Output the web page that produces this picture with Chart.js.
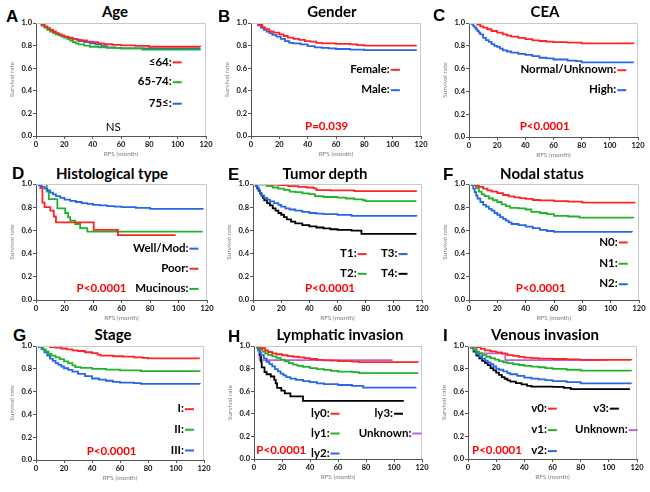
<!DOCTYPE html>
<html>
<head>
<meta charset="utf-8">
<script src="https://cdn.jsdelivr.net/npm/chart.js@4.4.0/dist/chart.umd.min.js"></script>
<style>
  body { margin: 0; width: 650px; height: 492px; background: #fff; position: relative; overflow: hidden; }
  .box { position: absolute; }
  .letter { position: absolute; font: bold 17px "Liberation Sans", Arial, sans-serif; line-height: 17px; color: #000; }
  .title { position: absolute; font: bold 15px Lato, sans-serif; line-height: 15px; color: #000; transform: translateX(-50%); white-space: nowrap; }
</style>
</head>
<body>
<script>
// survival curves: [month, survival rate]
const age64 = [[0,1],[2,1],[4,0.985],[6,0.97],[8,0.955],[10,0.94],[12,0.925],[14,0.91],[16,0.9],[18,0.89],[20,0.88],[23,0.87],[26,0.86],[29,0.85],[32,0.845],[36,0.835],[40,0.83],[44,0.82],[48,0.812],[54,0.806],[60,0.802],[70,0.797],[80,0.79],[116,0.788]];
const age6574 = [[0,1],[2,1],[4,0.98],[6,0.96],[8,0.94],[10,0.925],[12,0.91],[14,0.9],[16,0.89],[18,0.88],[20,0.87],[22,0.86],[24,0.845],[26,0.83],[28,0.82],[30,0.81],[34,0.8],[38,0.79],[44,0.785],[50,0.78],[60,0.775],[75,0.765],[116,0.762]];
const age75 = [[0,1],[2,1],[4,0.98],[6,0.965],[8,0.95],[10,0.935],[12,0.92],[14,0.905],[16,0.895],[18,0.885],[20,0.875],[23,0.865],[26,0.855],[30,0.84],[34,0.83],[38,0.82],[42,0.81],[46,0.795],[50,0.785],[56,0.78],[60,0.775],[80,0.774],[116,0.774]];

const female = [[0,1],[3,1],[5,0.985],[8,0.96],[10,0.945],[13,0.925],[16,0.915],[20,0.9],[23,0.885],[26,0.87],[30,0.86],[34,0.85],[38,0.84],[42,0.835],[46,0.825],[50,0.82],[60,0.815],[70,0.81],[75,0.805],[80,0.8],[117,0.8]];
const male = [[0,1],[3,1],[5,0.98],[7,0.96],[9,0.94],[11,0.925],[13,0.91],[15,0.895],[18,0.88],[21,0.86],[24,0.84],[27,0.825],[30,0.82],[35,0.81],[40,0.795],[45,0.785],[50,0.78],[55,0.775],[60,0.77],[70,0.765],[80,0.76],[117,0.76]];

const ceaNormal = [[0,1],[4,1],[6,0.985],[8,0.97],[10,0.96],[13,0.945],[16,0.93],[20,0.915],[24,0.9],[27,0.89],[30,0.88],[35,0.87],[40,0.858],[45,0.848],[50,0.842],[55,0.837],[60,0.833],[70,0.828],[80,0.822],[117,0.82]];
const ceaHigh = [[0,1],[2,0.99],[3,0.975],[4,0.96],[5,0.945],[6,0.93],[7,0.915],[8,0.9],[10,0.87],[12,0.85],[14,0.835],[16,0.815],[18,0.8],[20,0.79],[22,0.775],[24,0.76],[27,0.75],[30,0.74],[35,0.73],[40,0.72],[45,0.71],[50,0.695],[55,0.69],[60,0.68],[70,0.67],[76,0.665],[80,0.655],[117,0.655]];

const histWell = [[0,1],[2,0.99],[4,0.975],[6,0.96],[8,0.945],[10,0.925],[12,0.91],[14,0.895],[17,0.88],[20,0.865],[24,0.855],[28,0.845],[32,0.835],[36,0.828],[40,0.82],[45,0.815],[50,0.81],[55,0.805],[60,0.8],[70,0.795],[80,0.785],[117,0.78]];
const histPoor = [[0,1],[3,0.965],[4.5,0.84],[6,0.8],[10,0.77],[12.5,0.72],[14,0.67],[40.5,0.605],[57.5,0.56],[98,0.56]];
const histMuc = [[0,1],[7.5,0.935],[9,0.87],[15,0.79],[20.5,0.75],[22.5,0.715],[24,0.685],[27.5,0.655],[31,0.62],[36,0.59],[117,0.59]];

const t1 = [[0,1],[8,1],[12,0.995],[18,0.99],[25,0.982],[32,0.975],[38,0.97],[43,0.962],[45,0.948],[55,0.945],[72,0.938],[116,0.935]];
const t2 = [[0,1],[5,0.995],[10,0.982],[14,0.97],[18,0.96],[22,0.95],[26,0.935],[30,0.93],[35,0.92],[40,0.912],[44,0.895],[50,0.888],[60,0.883],[66,0.875],[72,0.868],[78,0.86],[80,0.852],[116,0.852]];
const t3 = [[0,1],[2,0.99],[3,0.97],[4,0.95],[5,0.925],[6,0.9],[8,0.88],[10,0.865],[12,0.85],[15,0.835],[18,0.82],[20,0.805],[23,0.79],[26,0.78],[30,0.77],[35,0.76],[40,0.75],[45,0.745],[50,0.74],[60,0.733],[70,0.726],[116,0.72]];
const t4 = [[0,1],[2,0.985],[3,0.96],[4,0.94],[5,0.92],[6,0.9],[7,0.88],[8,0.86],[10,0.835],[12,0.815],[14,0.79],[16,0.77],[18,0.75],[20,0.735],[22,0.715],[24,0.695],[27,0.675],[30,0.66],[35,0.645],[40,0.635],[45,0.625],[50,0.618],[55,0.61],[60,0.605],[70,0.598],[77,0.57],[116,0.57]];

const n0 = [[0,1],[3,1],[5,0.985],[7,0.975],[10,0.96],[13,0.945],[16,0.935],[20,0.922],[24,0.905],[28,0.893],[32,0.885],[36,0.878],[40,0.872],[45,0.862],[50,0.858],[60,0.853],[70,0.848],[80,0.84],[117,0.836]];
const n1 = [[0,1],[3,0.99],[5,0.965],[7,0.935],[9,0.91],[11,0.895],[14,0.875],[17,0.86],[20,0.845],[23,0.825],[26,0.81],[29,0.795],[35,0.79],[40,0.78],[44,0.76],[50,0.75],[55,0.74],[60,0.725],[70,0.72],[78,0.71],[116,0.707]];
const n2 = [[0,1],[2,0.99],[3,0.96],[4,0.93],[5,0.9],[6,0.875],[8,0.845],[10,0.82],[12,0.805],[14,0.785],[16,0.77],[18,0.75],[20,0.735],[22,0.715],[24,0.7],[26,0.685],[28,0.67],[30,0.655],[35,0.645],[40,0.632],[45,0.62],[50,0.605],[55,0.595],[60,0.588],[115,0.585]];

const stage1 = [[0,1],[6,1],[10,0.99],[14,0.985],[18,0.978],[22,0.97],[26,0.962],[30,0.956],[35,0.945],[40,0.937],[44,0.925],[46,0.915],[55,0.91],[62,0.906],[70,0.9],[76,0.896],[80,0.892],[117,0.892]];
const stage2 = [[0,1],[3,0.99],[5,0.97],[7,0.95],[9,0.93],[11,0.915],[14,0.9],[17,0.885],[20,0.865],[23,0.85],[26,0.83],[28,0.815],[32,0.808],[40,0.8],[50,0.792],[60,0.787],[75,0.78],[117,0.778]];
const stage3 = [[0,1],[2,0.99],[4,0.97],[6,0.945],[8,0.915],[10,0.89],[12,0.87],[14,0.85],[16,0.835],[18,0.82],[20,0.805],[23,0.79],[26,0.775],[30,0.755],[35,0.735],[40,0.715],[45,0.705],[50,0.695],[55,0.685],[60,0.678],[70,0.675],[75,0.668],[117,0.667]];

const ly0 = [[0,1],[3,0.99],[5,0.98],[8,0.96],[10,0.947],[13,0.935],[16,0.927],[20,0.918],[24,0.91],[28,0.905],[32,0.9],[36,0.892],[40,0.885],[45,0.878],[50,0.873],[55,0.87],[60,0.867],[70,0.862],[75,0.857],[117,0.852]];
const ly1 = [[0,1],[2,0.99],[4,0.97],[6,0.95],[8,0.935],[10,0.922],[13,0.908],[16,0.895],[19,0.88],[22,0.865],[25,0.848],[28,0.835],[31,0.825],[35,0.815],[40,0.805],[45,0.795],[50,0.788],[55,0.78],[60,0.774],[70,0.768],[75,0.76],[117,0.758]];
const ly2 = [[0,1],[2,0.985],[3,0.96],[4,0.94],[5,0.92],[7,0.89],[9,0.86],[11,0.84],[13,0.82],[15,0.795],[17,0.775],[19,0.755],[21,0.74],[23,0.725],[26,0.712],[30,0.7],[35,0.69],[40,0.68],[45,0.67],[50,0.662],[60,0.655],[70,0.647],[78,0.632],[116,0.632]];
const ly3 = [[0,1],[3,0.97],[4,0.92],[5,0.86],[5.5,0.81],[7.5,0.77],[9,0.75],[12,0.73],[14.5,0.7],[15.5,0.67],[16.5,0.63],[19.5,0.605],[22,0.58],[26,0.555],[35,0.515],[107,0.515]];
const lyUnk = [[0,1],[4,0.875],[99,0.875]];

const v0 = [[0,1],[4,1],[6,0.99],[9,0.975],[12,0.962],[16,0.952],[20,0.944],[24,0.932],[28,0.92],[32,0.912],[36,0.904],[40,0.897],[45,0.892],[50,0.889],[60,0.885],[70,0.882],[80,0.878],[116,0.877]];
const v1 = [[0,1],[2,0.99],[4,0.97],[6,0.95],[8,0.935],[10,0.92],[13,0.905],[16,0.893],[19,0.88],[22,0.866],[25,0.856],[28,0.848],[32,0.84],[36,0.832],[40,0.825],[45,0.818],[50,0.812],[55,0.805],[60,0.798],[70,0.79],[80,0.782],[116,0.78]];
const v2 = [[0,1],[2,0.99],[4,0.96],[6,0.93],[8,0.905],[10,0.888],[12,0.87],[14,0.855],[16,0.84],[18,0.82],[20,0.8],[22,0.79],[25,0.776],[28,0.76],[30,0.75],[35,0.735],[40,0.72],[45,0.712],[50,0.705],[55,0.698],[60,0.69],[70,0.68],[80,0.67],[116,0.668]];
const v3 = [[0,1],[2,0.985],[4,0.95],[6,0.915],[8,0.89],[10,0.868],[12,0.85],[14,0.83],[16,0.805],[18,0.785],[20,0.765],[22,0.745],[24,0.725],[26,0.71],[28,0.695],[30,0.685],[34,0.672],[38,0.66],[42,0.648],[45,0.64],[60,0.638],[68,0.63],[73,0.618],[115,0.618]];
const vUnk = [[0,1],[6,0.935],[26.5,0.875],[99,0.875]];

const panelLetters = ['A', 'B', 'C', 'D', 'E', 'F', 'G', 'H', 'I'];
const panelTitles = ['Age', 'Gender', 'CEA', 'Histological type', 'Tumor depth', 'Nodal status', 'Stage', 'Lymphatic invasion', 'Venous invasion'];
const groupLabels = [
  ['≤64:', '65-74:', '75≤:'],
  ['Female:', 'Male:'],
  ['Normal/Unknown:', 'High:'],
  ['Well/Mod:', 'Poor:', 'Mucinous:'],
  ['T1:', 'T2:', 'T3:', 'T4:'],
  ['N0:', 'N1:', 'N2:'],
  ['I:', 'II:', 'III:'],
  ['ly0:', 'ly1:', 'ly2:', 'ly3:', 'Unknown:'],
  ['v0:', 'v1:', 'v2:', 'v3:', 'Unknown:']
];
const pValues = ['NS', 'P=0.039', 'P<0.0001', 'P<0.0001', 'P<0.0001', 'P<0.0001', 'P<0.0001', 'P<0.0001', 'P<0.0001'];
const xTicks = [0, 20, 40, 60, 80, 100, 120];
const yTicks = [0, 0.2, 0.4, 0.6, 0.8, 1.0];

const RED = '#ff2424', GREEN = '#22b22a', BLUE = '#2766e6', BLACK = '#000000', PURPLE = '#b866d8';

// layout of each panel: plot rect [left, top, right, bottom], title centre, letter spot, legend anchors (data coords)
const panels = [
  { series: [age64, age6574, age75], colors: [RED, GREEN, BLUE], plot: [36, 23, 206, 136], title: [115, 12], letter: [6, 16],
    keys: [[95.8, 0.656], [95.8, 0.48], [95.8, 0.29]], p: [54.6, 0.08], pColor: '#000', pBold: false },
  { series: [female, male], colors: [RED, BLUE], plot: [251, 23, 421, 136], title: [332, 12], letter: [218, 16],
    keys: [[98, 0.59], [98, 0.41]], p: [53.4, 0.09] },
  { series: [ceaNormal, ceaHigh], colors: [RED, BLUE], plot: [469, 23, 638, 137], title: [545, 12], letter: [433, 15],
    keys: [[104.6, 0.59], [104.6, 0.415]], p: [53.7, 0.09] },
  { series: [histWell, histPoor, histMuc], colors: [BLUE, RED, GREEN], plot: [36, 184, 207, 300], title: [112, 174], letter: [12, 173],
    keys: [[107, 0.447], [107, 0.274], [107, 0.10]], p: [46, 0.10] },
  { series: [t1, t2, t3, t4], colors: [RED, GREEN, BLUE, BLACK], plot: [253, 184, 422, 300], title: [325, 174], letter: [228, 174],
    keys: [[73.6, 0.40], [73.6, 0.23], [102.6, 0.40], [102.6, 0.23]], p: [54.7, 0.10] },
  { series: [n0, n1, n2], colors: [RED, GREEN, BLUE], plot: [469, 184, 639, 300], title: [542, 174], letter: [443, 174],
    keys: [[105, 0.50], [105, 0.317], [105, 0.14]], p: [50.6, 0.10] },
  { series: [stage1, stage2, stage3], colors: [RED, GREEN, BLUE], plot: [36, 346, 204, 460], title: [113, 335], letter: [13, 335],
    keys: [[105.7, 0.45], [105.7, 0.27], [105.7, 0.088]], p: [54, 0.08] },
  { series: [ly0, ly1, ly2, ly3, lyUnk], colors: [RED, GREEN, BLUE, BLACK, PURPLE], plot: [254, 346, 422, 459], title: [340, 335], letter: [228, 336],
    keys: [[54, 0.405], [54, 0.23], [54, 0.053], [99.3, 0.405], [112.4, 0.23]], p: [19.5, 0.074] },
  { series: [v0, v1, v2, v3, vUnk], colors: [RED, GREEN, BLUE, BLACK, PURPLE], plot: [468, 346, 637, 459], title: [545, 335], letter: [443, 335],
    keys: [[56, 0.45], [56, 0.26], [56, 0.074], [100, 0.45], [113.4, 0.26]], p: [20.6, 0.074] }
];

const tickFont = { family: 'Lato, sans-serif', size: 7.5, weight: 'bold' };
const axisTitleFont = { family: 'Lato, sans-serif', size: 6.5 };

function overlay(panel, idx) {
  return {
    id: 'overlay' + idx,
    afterDatasetsDraw(chart) {
      const { ctx, chartArea: a, scales: { x, y } } = chart;
      ctx.save();
      // light frame on top and right
      ctx.strokeStyle = '#c8c8c8';
      ctx.lineWidth = 1;
      ctx.beginPath();
      ctx.moveTo(a.left, a.top + 0.5);
      ctx.lineTo(a.right - 0.5, a.top + 0.5);
      ctx.lineTo(a.right - 0.5, a.bottom);
      ctx.stroke();

      ctx.font = 'bold 11.5px Lato, sans-serif';
      ctx.textBaseline = 'middle';
      groupLabels[idx].forEach((label, j) => {
        const px = x.getPixelForValue(panel.keys[j][0]);
        const py = y.getPixelForValue(panel.keys[j][1]);
        ctx.fillStyle = '#000';
        ctx.textAlign = 'right';
        ctx.fillText(label, px, py);
        ctx.strokeStyle = panel.colors[j];
        ctx.lineWidth = 2;
        ctx.beginPath();
        ctx.moveTo(px + 1, py + 0.5);
        ctx.lineTo(px + 10, py + 0.5);
        ctx.stroke();
      });

      ctx.font = (panel.pBold === false ? '' : 'bold ') + '11.5px Lato, sans-serif';
      ctx.fillStyle = panel.pColor || '#ff0000';
      ctx.textAlign = 'center';
      ctx.fillText(pValues[idx], x.getPixelForValue(panel.p[0]), y.getPixelForValue(panel.p[1]));
      ctx.restore();
    }
  };
}

panels.forEach((panel, idx) => {
  const [L, T, R, B] = panel.plot;

  const letter = document.createElement('div');
  letter.className = 'letter';
  letter.textContent = panelLetters[idx];
  letter.style.left = panel.letter[0] + 'px';
  letter.style.top = (panel.letter[1] - 8) + 'px';
  document.body.appendChild(letter);

  const title = document.createElement('div');
  title.className = 'title';
  title.textContent = panelTitles[idx];
  title.style.left = panel.title[0] + 'px';
  title.style.top = (panel.title[1] - 8) + 'px';
  document.body.appendChild(title);

  const box = document.createElement('div');
  box.className = 'box';
  box.style.left = (L - 36) + 'px';
  box.style.top = (T - 8) + 'px';
  box.style.width = (R - L + 50) + 'px';
  box.style.height = (B - T + 32) + 'px';
  const canvas = document.createElement('canvas');
  box.appendChild(canvas);
  document.body.appendChild(box);

  new Chart(canvas, {
    type: 'line',
    data: {
      datasets: panel.series.map((s, j) => ({
        label: groupLabels[idx][j],
        data: s.map(([t, v]) => ({ x: t, y: v })),
        borderColor: panel.colors[j],
        borderWidth: 1.8,
        pointRadius: 0,
        stepped: 'before',
        fill: false
      }))
    },
    options: {
      responsive: true,
      maintainAspectRatio: false,
      animation: false,
      layout: { padding: { top: 8, right: 14, left: 0, bottom: 0 } },
      plugins: { legend: { display: false }, tooltip: { enabled: false } },
      scales: {
        x: {
          type: 'linear', min: 0, max: 120,
          afterFit: s => { s.height = 24; },
          afterBuildTicks: s => { s.ticks = xTicks.map(v => ({ value: v })); },
          ticks: { font: tickFont, color: '#111', padding: 1, maxRotation: 0, autoSkip: false },
          grid: { drawOnChartArea: false, tickLength: 3, color: '#555' },
          border: { color: '#555' },
          title: { display: true, text: 'RFS (month)', font: axisTitleFont, color: '#8a7a70', padding: { top: 0, bottom: 2 } }
        },
        y: {
          min: 0, max: 1,
          afterFit: s => { s.width = 36; },
          afterBuildTicks: s => { s.ticks = yTicks.map(v => ({ value: v })); },
          ticks: { font: tickFont, color: '#111', padding: 1, callback: v => v.toFixed(1) },
          grid: { drawOnChartArea: false, tickLength: 3, color: '#555' },
          border: { color: '#555' },
          title: { display: true, text: 'Survival rate', font: axisTitleFont, color: '#8a7a70', padding: { top: 8, bottom: 0 } }
        }
      }
    },
    plugins: [overlay(panel, idx)]
  });
});
</script>
</body>
</html>
